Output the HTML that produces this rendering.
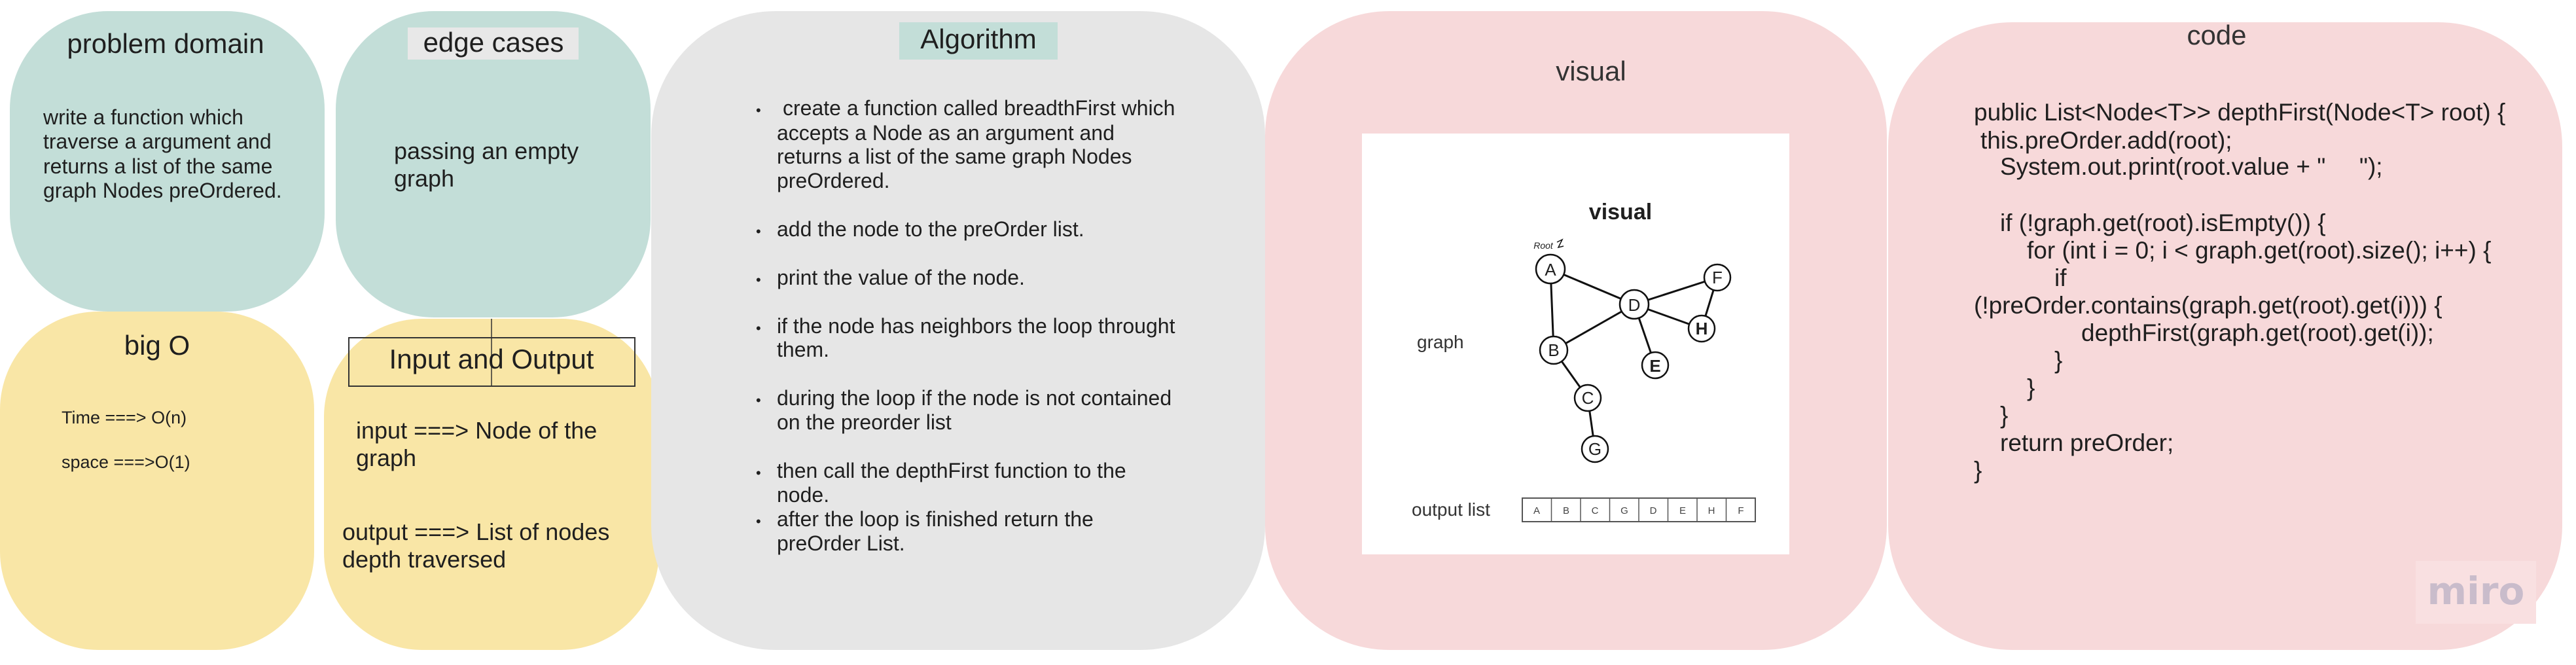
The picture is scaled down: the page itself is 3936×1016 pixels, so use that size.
<!DOCTYPE html>
<html><head><meta charset="utf-8"><style>
html,body{margin:0;padding:0;background:#fff;}
svg{display:block;}
text{font-family:"Liberation Sans",sans-serif;}
</style></head><body>
<svg width="3936" height="1016" viewBox="0 0 3936 1016" xmlns="http://www.w3.org/2000/svg" fill="#1f1f1f">
<rect width="3936" height="1016" fill="#fff"/>
<!-- panels -->
<rect x="15" y="17" width="481" height="459" rx="150" fill="#c3ded8"/>
<rect x="513" y="17" width="481" height="468" rx="150" fill="#c3ded8"/>
<rect x="0" y="476" width="480" height="517" rx="150" fill="#f9e6a6"/>
<rect x="495" y="487" width="512" height="506" rx="150" fill="#f9e6a6"/>
<rect x="995" y="17" width="938" height="976" rx="190" fill="#e6e6e6"/>
<rect x="1933" y="17" width="950" height="976" rx="190" fill="#f7d9da"/>
<rect x="2885" y="34" width="1030" height="959" rx="190" fill="#f7d9da"/>

<!-- problem domain -->
<text x="253" y="81" font-size="42" text-anchor="middle">problem domain</text>
<text font-size="32"><tspan x="66" y="190">write a function which</tspan><tspan x="66" y="227">traverse a argument and</tspan><tspan x="66" y="265">returns a list of the same</tspan><tspan x="66" y="302">graph Nodes preOrdered.</tspan></text>

<!-- edge cases -->
<rect x="623" y="42" width="261" height="49" fill="#e8e8e8"/>
<text x="754" y="79" font-size="42" text-anchor="middle">edge cases</text>
<text font-size="36"><tspan x="602" y="243">passing an empty</tspan><tspan x="602" y="285">graph</tspan></text>

<!-- big O -->
<text x="240" y="542" font-size="42" text-anchor="middle">big O</text>
<text x="94" y="647" font-size="27">Time ===&gt; O(n)</text>
<text x="94" y="715" font-size="27">space ===&gt;O(1)</text>

<!-- IO -->
<rect x="533" y="516" width="437" height="74" fill="none" stroke="#333" stroke-width="2"/>
<line x1="751" y1="487" x2="751" y2="590" stroke="#333" stroke-width="1.5"/>
<text x="751" y="563" font-size="42" text-anchor="middle">Input and Output</text>
<text font-size="36"><tspan x="544" y="670">input ===&gt; Node of the</tspan><tspan x="544" y="712">graph</tspan></text>
<text font-size="36"><tspan x="523" y="825">output ===&gt; List of nodes</tspan><tspan x="523" y="867">depth traversed</tspan></text>

<!-- Algorithm -->
<rect x="1374" y="34" width="242" height="57" fill="#c3ded8"/>
<text x="1495" y="74" font-size="42" text-anchor="middle">Algorithm</text>
<g font-size="32">
<text x="1155" y="176" font-size="22">•</text>
<text><tspan x="1196" y="176">create a function called breadthFirst which</tspan><tspan x="1187" y="214">accepts a Node as an argument and</tspan><tspan x="1187" y="250">returns a list of the same graph Nodes</tspan><tspan x="1187" y="287">preOrdered.</tspan></text>
<text x="1155" y="361" font-size="22">•</text><text x="1187" y="361">add the node to the preOrder list.</text>
<text x="1155" y="435" font-size="22">•</text><text x="1187" y="435">print the value of the node.</text>
<text x="1155" y="509" font-size="22">•</text><text><tspan x="1187" y="509">if the node has neighbors the loop throught</tspan><tspan x="1187" y="545">them.</tspan></text>
<text x="1155" y="619" font-size="22">•</text><text><tspan x="1187" y="619">during the loop if the node is not contained</tspan><tspan x="1187" y="656">on the preorder list</tspan></text>
<text x="1155" y="730" font-size="22">•</text><text><tspan x="1187" y="730">then call the depthFirst function to the</tspan><tspan x="1187" y="767">node.</tspan></text>
<text x="1155" y="804" font-size="22">•</text><text><tspan x="1187" y="804">after the loop is finished return the</tspan><tspan x="1187" y="841">preOrder List.</tspan></text>
</g>

<!-- visual -->
<text x="2431" y="123" font-size="42" text-anchor="middle" fill="#333">visual</text>
<rect x="2081" y="204" width="653" height="643" fill="#fff"/>
<text x="2476" y="335" font-size="34" font-weight="bold" text-anchor="middle">visual</text>
<text x="2165" y="532" font-size="28" fill="#333">graph</text>
<text x="2157" y="788" font-size="28" fill="#333">output list</text>
<g stroke="#111" stroke-width="3" fill="none">
<line x1="2369" y1="411" x2="2497" y2="465"/>
<line x1="2369" y1="411" x2="2374" y2="535"/>
<line x1="2374" y1="535" x2="2497" y2="465"/>
<line x1="2497" y1="465" x2="2624" y2="424"/>
<line x1="2497" y1="465" x2="2600" y2="502"/>
<line x1="2624" y1="424" x2="2600" y2="502"/>
<line x1="2497" y1="465" x2="2529" y2="558"/>
<line x1="2374" y1="535" x2="2426" y2="608"/>
<line x1="2426" y1="608" x2="2437" y2="686"/>
</g>
<g stroke="#111" stroke-width="2.5" fill="#fff">
<circle cx="2369" cy="411" r="22"/><circle cx="2497" cy="465" r="22"/><circle cx="2624" cy="424" r="20"/>
<circle cx="2600" cy="502" r="20"/><circle cx="2374" cy="535" r="21"/><circle cx="2529" cy="558" r="20"/>
<circle cx="2426" cy="608" r="20"/><circle cx="2437" cy="686" r="20"/>
</g>
<g font-size="26" text-anchor="middle">
<text x="2369" y="421">A</text><text x="2497" y="475">D</text><text x="2624" y="433">F</text>
<text x="2600" y="511" font-weight="bold">H</text><text x="2374" y="544">B</text><text x="2529" y="568" font-weight="bold">E</text>
<text x="2426" y="617">C</text><text x="2437" y="695">G</text>
</g>
<text x="2358" y="380" font-size="14" font-style="italic" text-anchor="middle">Root</text>
<path d="M2379 370 l8 -4 l-6 12 l8 -2" stroke="#111" stroke-width="1.5" fill="none"/>
<rect x="2326" y="761" width="356" height="36" stroke="#555" stroke-width="2" fill="#fff"/>
<g stroke="#555" stroke-width="1.5">
<line x1="2370.5" y1="761" x2="2370.5" y2="797"/><line x1="2415" y1="761" x2="2415" y2="797"/>
<line x1="2459.5" y1="761" x2="2459.5" y2="797"/><line x1="2504" y1="761" x2="2504" y2="797"/>
<line x1="2548.5" y1="761" x2="2548.5" y2="797"/><line x1="2593" y1="761" x2="2593" y2="797"/>
<line x1="2637.5" y1="761" x2="2637.5" y2="797"/>
</g>
<g font-size="15" text-anchor="middle" fill="#444">
<text x="2348" y="785">A</text><text x="2393" y="785">B</text><text x="2437" y="785">C</text><text x="2482" y="785">G</text>
<text x="2526" y="785">D</text><text x="2571" y="785">E</text><text x="2615" y="785">H</text><text x="2660" y="785">F</text>
</g>

<!-- code -->
<text x="3387" y="68" font-size="42" text-anchor="middle" fill="#333">code</text>
<g font-size="37">
<text x="3016" y="184">public List&lt;Node&lt;T&gt;&gt; depthFirst(Node&lt;T&gt; root) {</text>
<text x="3026" y="227">this.preOrder.add(root);</text>
<text x="3056" y="267" xml:space="preserve">System.out.print(root.value + "     ");</text>
<text x="3056" y="353">if (!graph.get(root).isEmpty()) {</text>
<text x="3097" y="395">for (int i = 0; i &lt; graph.get(root).size(); i++) {</text>
<text x="3139" y="437">if</text>
<text x="3016" y="479">(!preOrder.contains(graph.get(root).get(i))) {</text>
<text x="3180" y="521">depthFirst(graph.get(root).get(i));</text>
<text x="3139" y="563">}</text>
<text x="3097" y="605">}</text>
<text x="3056" y="647">}</text>
<text x="3056" y="689">return preOrder;</text>
<text x="3016" y="731">}</text>
</g>
<rect x="3691" y="857" width="184" height="96" fill="#f9e0e1"/>
<text x="3783" y="923" font-size="58" font-weight="bold" text-anchor="middle" fill="#c9bccb" style="font-family:'DejaVu Sans',sans-serif;fill:#c9bccb">miro</text>
</svg>
</body></html>
